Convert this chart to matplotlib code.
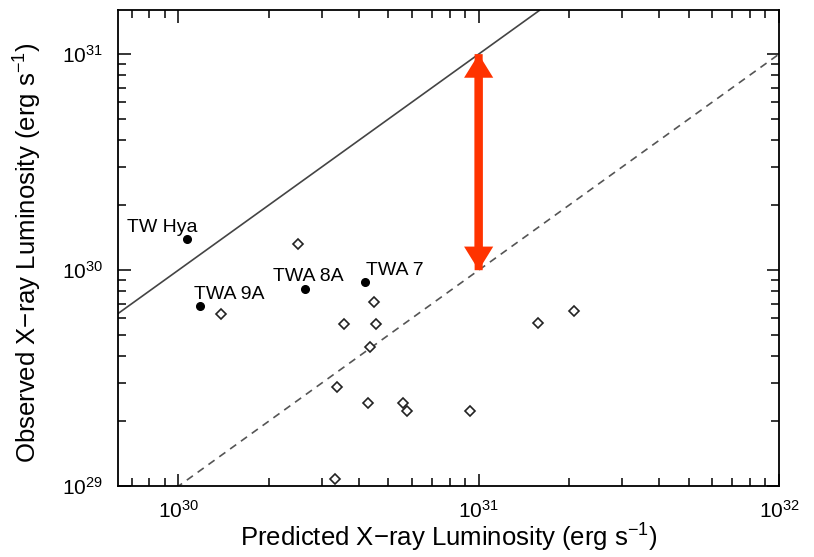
import numpy as np
import matplotlib
matplotlib.use('Agg')
import matplotlib.pyplot as plt
from matplotlib.patches import FancyArrowPatch, ArrowStyle
from matplotlib.ticker import LogLocator


plt.rcParams['font.family'] = ['Liberation Sans', 'DejaVu Sans']
plt.rcParams['mathtext.fontset'] = 'custom'
plt.rcParams['mathtext.rm'] = 'Liberation Sans'
plt.rcParams['mathtext.it'] = 'Liberation Sans:italic'
plt.rcParams['mathtext.default'] = 'regular'

# Named TWA members (filled circles)
named_stars = ['TW Hya', 'TWA 9A', 'TWA 8A', 'TWA 7']
named_lx_pred = [1.07e30, 1.18e30, 2.65e30, 4.17e30]
named_lx_obs = [1.40e30, 6.8e29, 8.2e29, 8.8e29]
# label offsets in points (dx, dy) and alignment
named_offsets = [(-18, 4.5), (-4, 5), (2, 5.5), (1, 5)]
named_ha = ['center', 'left', 'center', 'left']

# Remaining sample (open diamonds)
other_lx_pred = [2.51e30, 1.39e30, 4.47e30, 3.56e30, 4.56e30, 4.36e30, 3.37e30,
                 4.29e30, 5.62e30, 5.77e30, 9.33e30, 1.58e31, 2.08e31, 3.33e30]
other_lx_obs = [1.32e30, 6.3e29, 7.1e29, 5.64e29, 5.66e29, 4.39e29, 2.88e29,
                2.42e29, 2.43e29, 2.23e29, 2.23e29, 5.69e29, 6.5e29, 1.08e29]

x_range = [6.3e29, 1.0e32]
y_range = [1.0e29, 1.6e31]
ratio_lines = [1.0, 0.1]      # Lx_obs = ratio * Lx_pred
gap_x = 1e31
gap_y = [1e30, 1e31]

fig = plt.figure(figsize=(8.14, 5.57), dpi=100)
ax = fig.add_axes([0.145, 0.127, 0.812, 0.855])
ax.set_xscale('log')
ax.set_yscale('log')
ax.set_xlim(x_range)
ax.set_ylim(y_range)

xx = np.array([1e29, 1e33])
ax.plot(xx, ratio_lines[0] * xx, color='#444444', lw=1.2)
ax.plot(xx, ratio_lines[1] * xx, color='#555555', lw=1.2, dashes=(4.5, 3.5))

ax.plot(other_lx_pred, other_lx_obs, 'D', ms=4.8, mfc='white', mec='#222222', mew=1.2)
ax.plot(named_lx_pred, named_lx_obs, 'o', ms=5.5, color='black')

for name, xp, yp, off, ha in zip(named_stars, named_lx_pred, named_lx_obs, named_offsets, named_ha):
    ax.annotate(name, (xp, yp), xytext=off, textcoords='offset points',
                ha=ha, va='baseline', fontsize=14)

# double-headed arrow marking the order-of-magnitude gap:
# two full-length single arrows laid over each other
style = ArrowStyle('simple', head_length=17, head_width=21, tail_width=5.8)
for start, end in [(gap_y[0], gap_y[1]), (gap_y[1], gap_y[0])]:
    ax.add_patch(FancyArrowPatch((gap_x, start), (gap_x, end), arrowstyle=style,
                                 mutation_scale=1, color='#ff3300', lw=0,
                                 shrinkA=0, shrinkB=0, zorder=4))

ax.xaxis.set_major_locator(LogLocator(base=10, numticks=10))
ax.yaxis.set_major_locator(LogLocator(base=10, numticks=10))
ax.tick_params(which='both', direction='in', top=True, right=True, width=1.1)
ax.tick_params(which='major', length=9, labelsize=15)
ax.tick_params(axis='x', which='major', pad=10)
ax.tick_params(axis='y', which='major', pad=11)
ax.tick_params(which='minor', length=5.5)
for s in ax.spines.values():
    s.set_linewidth(1.3)

ax.set_xlabel('Predicted X\u2212ray Luminosity (erg s$^{-1}$)', fontsize=18.5)
ax.set_ylabel('Observed X\u2212ray Luminosity (erg s$^{-1}$)', fontsize=18.5)
ax.xaxis.set_label_coords(0.5, -0.075)
ax.yaxis.set_label_coords(-0.112, 0.49)

fig.savefig('out.png', dpi=100)
